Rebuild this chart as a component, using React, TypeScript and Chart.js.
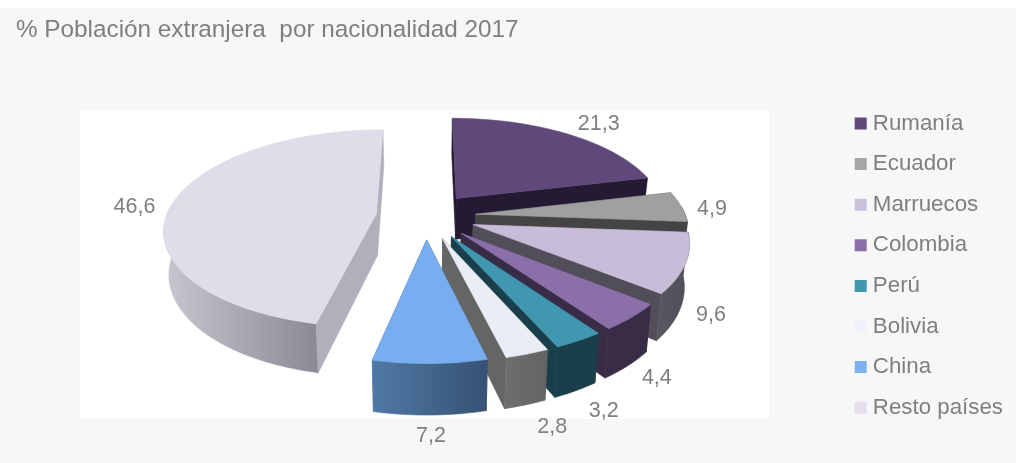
import React, { useEffect, useRef } from "react";
import { Chart, registerables } from "chart.js";

Chart.register(...registerables);

const TITLE = "% Población extranjera  por nacionalidad 2017";
const categories = ["Rumanía", "Ecuador", "Marruecos", "Colombia", "Perú", "Bolivia", "China", "Resto países"];
const values = [21.3, 4.9, 9.6, 4.4, 3.2, 2.8, 7.2, 46.6];

const topColors = ["#5f497a", "#a0a0a0", "#c7bdd8", "#8a6fa8", "#4197b0", "#e8edf6", "#78aef0", "#e1dce9"];
const legendColors = ["#5f497a", "#a5a5a5", "#ccc1da", "#8b6fa9", "#4198af", "#eef3fa", "#7cb1f2", "#e5dfec"];
const wallColors = ["#251a33", "#444444", "#514e59", "#392c47", "#1a3f4a", "#646666", "#3f5f85", "#b3afba"];
const outerLeft = ["#251a33", "#444444", "#5a5661", "#392c47", "#1a3f4a", "#6e6e6e", "#4f79a5", "#c9c6d0"];
const outerRight = ["#251a33", "#444444", "#504d57", "#392c47", "#1a3f4a", "#626363", "#365274", "#8e8a95"];
const labelShift = [[32, -10], [30.5, 2.5], [25.5, 52], [25, 61], [25, 70], [25, 73], [1, 73], [-38, 4]];
const drawOrder = [7, 0, 1, 2, 3, 4, 5, 6];

// 3D view of the pie plane
const VIEW = { cx: 426, cy: 216, a: 210, b: 97, p: 0.15, depth: 42, shrink: 0.98, explode: 0.238 };
const TEXT_COLOR = "#7f7f7f";
const FONT = "'Liberation Sans', Arial, sans-serif";

type Pt = [number, number];
const proj = (X: number, Y: number, low = false): Pt => {
  const s = 1 / (1 - VIEW.p * Y);
  let u = VIEW.a * X * s;
  let v = VIEW.b * Y * s;
  if (low) {
    u *= VIEW.shrink;
    v += VIEW.depth * s;
  }
  return [VIEW.cx + u, VIEW.cy + v];
};

const poly = (ctx: CanvasRenderingContext2D, pts: Pt[], fill: string | CanvasGradient) => {
  ctx.beginPath();
  pts.forEach((p, i) => (i ? ctx.lineTo(p[0], p[1]) : ctx.moveTo(p[0], p[1])));
  ctx.closePath();
  ctx.fillStyle = fill;
  ctx.strokeStyle = fill;
  ctx.lineWidth = 0.6;
  ctx.fill();
  ctx.stroke();
};

const pie3d = {
  id: "pie3d",
  beforeDraw(chart: any) {
    const { ctx, width, height } = chart;
    ctx.save();
    ctx.fillStyle = "#ffffff";
    ctx.fillRect(0, 0, width, height);
    ctx.fillStyle = "#f7f7f7";
    ctx.fillRect(0, 8, width, height - 8);
    ctx.fillStyle = "#ffffff";
    ctx.fillRect(80, 110, 689, 309);
    ctx.restore();
  },
  beforeDatasetsDraw(chart: any) {
    const { ctx } = chart;
    const arcs = chart.getDatasetMeta(0).data;
    ctx.save();
    for (const i of drawOrder) {
      const arc = arcs[i];
      const { startAngle, endAngle } = arc.getProps(["startAngle", "endAngle"]);
      const mid = (startAngle + endAngle) / 2;
      const ax = VIEW.explode * Math.cos(mid);
      const ay = VIEW.explode * Math.sin(mid);
      const n = Math.max(4, Math.ceil((endAngle - startAngle) / 0.02));
      const rim: { X: number; Y: number; t: number }[] = [];
      for (let k = 0; k <= n; k++) {
        const t = startAngle + ((endAngle - startAngle) * k) / n;
        rim.push({ X: ax + Math.cos(t), Y: ay + Math.sin(t), t });
      }
      const first = rim[0];
      const last = rim[rim.length - 1];
      const meanY = (a: number, b: number) => (a + b) / 2;
      const frontRim = rim.filter((r) => Math.sin(r.t) > -0.08);
      const walls = [
        {
          y: meanY(ay, first.Y),
          draw: () =>
            poly(ctx, [proj(ax, ay), proj(first.X, first.Y), proj(first.X, first.Y, true), proj(ax, ay, true)], wallColors[i]),
        },
        {
          y: meanY(ay, last.Y),
          draw: () =>
            poly(ctx, [proj(ax, ay), proj(last.X, last.Y), proj(last.X, last.Y, true), proj(ax, ay, true)], wallColors[i]),
        },
        {
          y: rim.reduce((s, r) => s + r.Y, 0) / rim.length,
          draw: () => {
            if (frontRim.length < 2) return;
            const xs = frontRim.map((r) => proj(r.X, r.Y)[0]);
            const g = ctx.createLinearGradient(Math.min(...xs), 0, Math.max(...xs), 0);
            g.addColorStop(0, outerLeft[i]);
            g.addColorStop(1, outerRight[i]);
            const pts: Pt[] = frontRim.map((r) => proj(r.X, r.Y));
            for (let k = frontRim.length - 1; k >= 0; k--) pts.push(proj(frontRim[k].X, frontRim[k].Y, true));
            poly(ctx, pts, g);
          },
        },
      ];
      walls.sort((a, b) => a.y - b.y).forEach((w) => w.draw());
      poly(ctx, [proj(ax, ay), ...rim.map((r) => proj(r.X, r.Y))], topColors[i]);
    }
    // value labels
    ctx.font = `21.5px ${FONT}`;
    ctx.fillStyle = TEXT_COLOR;
    ctx.textAlign = "center";
    ctx.textBaseline = "middle";
    arcs.forEach((arc: any, i: number) => {
      const { startAngle, endAngle } = arc.getProps(["startAngle", "endAngle"]);
      const mid = (startAngle + endAngle) / 2;
      const r = 1 + VIEW.explode;
      const [x, y] = proj(r * Math.cos(mid), r * Math.sin(mid));
      ctx.fillText(String(values[i]).replace(".", ","), x + labelShift[i][0], y + labelShift[i][1]);
    });
    ctx.restore();
    return false;
  },
};

export default function App() {
  const ref = useRef<HTMLCanvasElement>(null);
  useEffect(() => {
    document.body.style.margin = "0";
    const chart = new Chart(ref.current!, {
      type: "pie",
      data: {
        labels: categories,
        datasets: [{ data: values, backgroundColor: topColors, borderWidth: 0 }],
      },
      options: {
        responsive: false,
        animation: false,
        layout: { padding: { left: 16, right: 3, top: 10, bottom: 0 } },
        plugins: {
          tooltip: { enabled: false },
          title: {
            display: true,
            text: TITLE,
            align: "start",
            color: TEXT_COLOR,
            font: { family: FONT, size: 24.3, weight: "normal" },
            padding: { top: 6, bottom: 23 },
          },
          legend: {
            display: true,
            position: "right",
            align: "center",
            fullSize: false,
            labels: {
              color: TEXT_COLOR,
              font: { family: FONT, size: 22.3 },
              usePointStyle: true,
              boxWidth: 2,
              boxHeight: 12,
              padding: 18.3,
              generateLabels: () =>
                categories.map((text, i) => ({
                  text,
                  fillStyle: legendColors[i],
                  strokeStyle: legendColors[i],
                  lineWidth: 0,
                  pointStyle: "rect",
                  index: i,
                  fontColor: TEXT_COLOR,
                })),
            },
          },
        },
      },
      plugins: [pie3d],
    } as any);
    return () => chart.destroy();
  }, []);
  return <canvas ref={ref} width={1016} height={463} style={{ display: "block", width: 1016, height: 463 }} />;
}
